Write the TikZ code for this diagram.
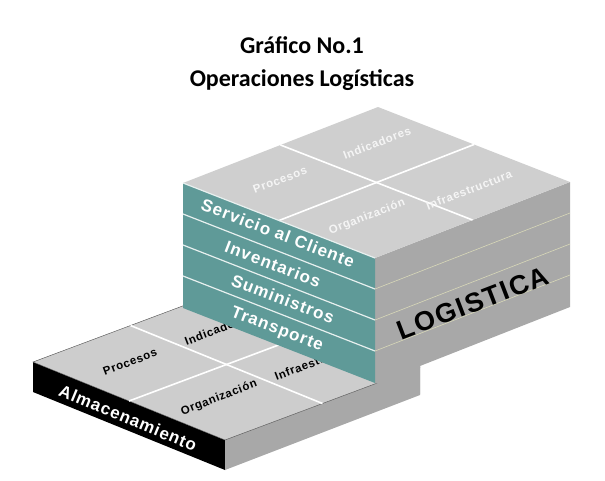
\documentclass[tikz,border=0pt]{standalone}
\usepackage{fontspec}
\usetikzlibrary{calc}
\setmainfont{Liberation Sans}
\newfontfamily\titlefont{Carlito}
\definecolor{topg}{HTML}{CFCFCF}
\definecolor{sideg}{HTML}{A8A8A8}
\definecolor{tealf}{HTML}{5F9A98}
\definecolor{linek}{HTML}{D8D8B8}
\begin{document}
\begin{tikzpicture}[x=1pt,y=-1pt,
  toplbl/.style={font=\bfseries\fontsize{11.5}{13}\selectfont\addfontfeature{LetterSpace=6}, text=#1, inner sep=0pt, rotate=21},
  teallbl/.style={font=\bfseries\fontsize{17}{19}\selectfont\addfontfeature{LetterSpace=6}, text=white, inner sep=0pt, rotate=-21},
  grid/.style={white, line width=1.6pt}]
\useasboundingbox (0,0) rectangle (605,480);
\node[font=\titlefont\bfseries\fontsize{24}{28}\selectfont] (t1) at (302,45) {Gráfico No.1};
\node[font=\titlefont\bfseries\fontsize{24}{28}\selectfont] (t2) at (302,80) {Operaciones Logísticas};
% slab
\coordinate (sL) at (33,362); \coordinate (sF) at (225,440); \coordinate (sR) at (420,367); \coordinate (sB) at (228,289);
\fill[black] (sL) -- (sF) -- (225,470) -- (33,392) -- cycle;
\fill[sideg] (sF) -- (sR) -- (420,395) -- (225,470) -- cycle;
\fill[topg!105!white, draw=gray!60!black, line width=0.4pt] (sL) -- (sF) -- (sR) -- (sB) -- cycle;
\draw[grid] ($(sL)!0.5!(sF)$) -- ($(sB)!0.5!(sR)$);
\draw[grid] ($(sL)!0.5!(sB)$) -- ($(sF)!0.5!(sR)$);
\node[toplbl=black] (sp) at (130,362) {Procesos};
\node[toplbl=black, anchor=west] (si) at (185,342) {Indicadores};
\node[toplbl=black] (so) at (219,398) {Organización};
\node[toplbl=black, anchor=west] (sn) at (275,377) {Infraestructura};
\node[font=\bfseries\fontsize{17}{19}\selectfont\addfontfeature{LetterSpace=5}, text=white, rotate=-22.5, inner sep=0pt] (alm) at (128,418) {Almacenamiento};
% upper block
\coordinate (L) at (183,183); \coordinate (F) at (375,258); \coordinate (R) at (570,182); \coordinate (B) at (378,107);
\fill[sideg] (F) -- (R) -- (570,307) -- (420,366) -- (420,394) -- (375,383) -- cycle;
\fill[tealf] (L) -- (F) -- (375,383) -- (183,308) -- cycle;
\fill[topg] (L) -- (F) -- (R) -- (B) -- cycle;
\draw[grid] ($(L)!0.5!(F)$) -- ($(B)!0.5!(R)$);
\draw[grid] ($(L)!0.5!(B)$) -- ($(F)!0.5!(R)$);
\foreach \k in {1,2,3}{
  \draw[white!85!tealf, line width=1.2pt] (183,183+31*\k) -- (375,258+31*\k);
  \draw[linek, line width=0.6pt] (375,258+31*\k) -- (570,182+31*\k);
}
\draw[white!85!tealf, line width=1.2pt] (L) -- (F);
\node[toplbl=white!92!gray] (pp) at (280,180) {Procesos};
\node[toplbl=white!92!gray] (pi) at (377,143) {Indicadores};
\node[toplbl=white!92!gray] (po) at (367,217) {Organización};
\node[toplbl=white!92!gray] (pn) at (469,190) {Infraestructura};
\node[teallbl] (c1) at (278,233) {Servicio al Cliente};
\node[teallbl] (c2) at (273,264) {Inventarios};
\node[teallbl] (c3) at (283,299) {Suministros};
\node[teallbl] (c4) at (277,330) {Transporte};
\node[font=\bfseries\fontsize{27}{30}\selectfont\addfontfeature{LetterSpace=6}, rotate=21, inner sep=0pt] (lg) at (473,303) {LOGISTICA};
\end{tikzpicture}
\end{document}
